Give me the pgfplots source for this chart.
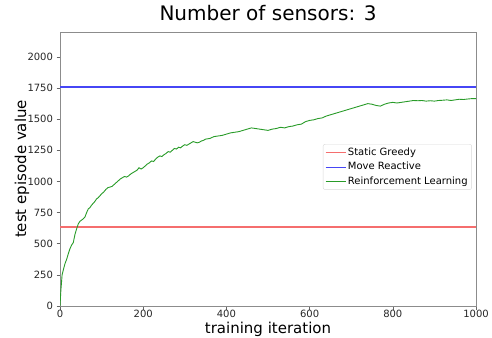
\documentclass[border=0pt]{standalone}
\usepackage{fontspec}
\setmainfont{DejaVu Sans}
\usepackage{pgfplots}
\pgfplotsset{compat=1.18}
\definecolor{cred}{RGB}{245,110,110}
\definecolor{cblue}{RGB}{70,70,245}
\definecolor{cgreen}{RGB}{40,155,40}
\begin{document}
\begin{tikzpicture}[x=1pt,y=1pt]
\begin{axis}[
  at={(0pt,0pt)}, anchor=south west,
  width=416pt, height=274pt, scale only axis,
  xmin=0, xmax=1000, ymin=0, ymax=2200,
  xtick={0,200,400,600,800,1000},
  ytick={0,250,500,750,1000,1250,1500,1750,2000},
  scaled ticks=false,
  /pgf/number format/assume math mode=true,
  /pgf/number format/1000 sep={},
  tick label style={font=\fontsize{10}{12}\selectfont, text=black!85},
  xticklabel style={yshift=2.5pt},
  tick align=outside, major tick length=3.5pt,
  tick style={black!60, line width=0.6pt},
  xtick pos=bottom, ytick pos=left,
  axis line style={black!45, line width=0.7pt},
  title={Number of sensors: 3},
  title style={font=\fontsize{20}{24}\selectfont, at={(axis description cs:0.5,1)}, anchor=base, yshift=5pt},
  xlabel={training iteration},
  xlabel style={font=\fontsize{15}{18}\selectfont, at={(axis description cs:0.5,0)}, anchor=base, yshift=-27pt},
  ylabel={test episode value},
  ylabel style={font=\fontsize{15}{18}\selectfont, at={(axis description cs:-0.0817,0.5)}, anchor=base, rotate=0},
  legend style={at={(axis description cs:0.99,0.591)}, anchor=north east,
    draw=black!15, rounded corners=2pt, font=\fontsize{10}{12}\selectfont,
    inner xsep=2pt, inner ysep=2pt, row sep=1pt},
  legend cell align=left,
  legend image code/.code={\draw[#1, line width=0.8pt] (0pt,0pt) -- (20pt,0pt);},
]
\addplot[draw=cred, mark=none, line width=1.4pt] coordinates {(0,633) (1000,633)};
\addlegendentry{Static Greedy}
\addplot[draw=cblue, mark=none, line width=1.1pt] coordinates {(0,1758) (1000,1758)};
\addlegendentry{Move Reactive}
\addplot[draw=cgreen, mark=none, line width=0.9pt] coordinates {
(0,0) (2,120) (5,250) (8,290) (12,340) (16,375) (20,420) (24,460) (28,490) (32,510)
(36,575) (40,620) (44,660) (48,680) (52,690) (56,700) (60,715) (64,750) (68,780) (72,790)
(76,810) (80,825) (84,840) (88,860) (92,870) (96,885) (100,900) (105,915) (110,935) (115,950)
(120,955) (125,960) (130,975) (135,990) (140,1005) (145,1020) (150,1030) (155,1040) (160,1035) (165,1045)
(170,1060) (175,1070) (180,1080) (185,1090) (190,1110) (195,1100) (200,1110) (205,1125) (210,1140) (215,1150)
(220,1165) (225,1160) (230,1180) (235,1195) (240,1205) (245,1200) (250,1215) (255,1225) (260,1240) (265,1235)
(270,1250) (275,1265) (280,1260) (285,1275) (290,1270) (295,1285) (300,1295) (305,1290) (310,1300) (315,1310)
(320,1320) (325,1315) (330,1310) (335,1315) (340,1325) (345,1330) (350,1340) (360,1345) (370,1360) (380,1365)
(390,1370) (400,1380) (410,1390) (420,1395) (430,1400) (440,1410) (450,1420) (460,1430) (470,1425) (480,1420)
(490,1415) (500,1410) (510,1420) (520,1425) (530,1435) (540,1430) (550,1440) (560,1445) (570,1455) (580,1460)
(590,1480) (600,1490) (610,1495) (620,1505) (630,1510) (640,1525) (650,1535) (660,1545) (670,1555) (680,1565)
(690,1575) (700,1585) (710,1595) (720,1605) (730,1615) (740,1625) (750,1620) (760,1610) (770,1605) (780,1620)
(790,1630) (800,1635) (810,1630) (820,1635) (830,1640) (840,1645) (850,1650) (860,1648) (870,1650) (880,1645)
(890,1648) (900,1645) (910,1650) (920,1652) (930,1655) (940,1650) (950,1655) (960,1660) (970,1658) (980,1662)
(990,1665) (1000,1665)};
\addlegendentry{Reinforcement Learning}
\end{axis}
\pgfresetboundingbox
\path (-60pt,-31pt) rectangle (432pt,306pt);
\end{tikzpicture}
\end{document}
